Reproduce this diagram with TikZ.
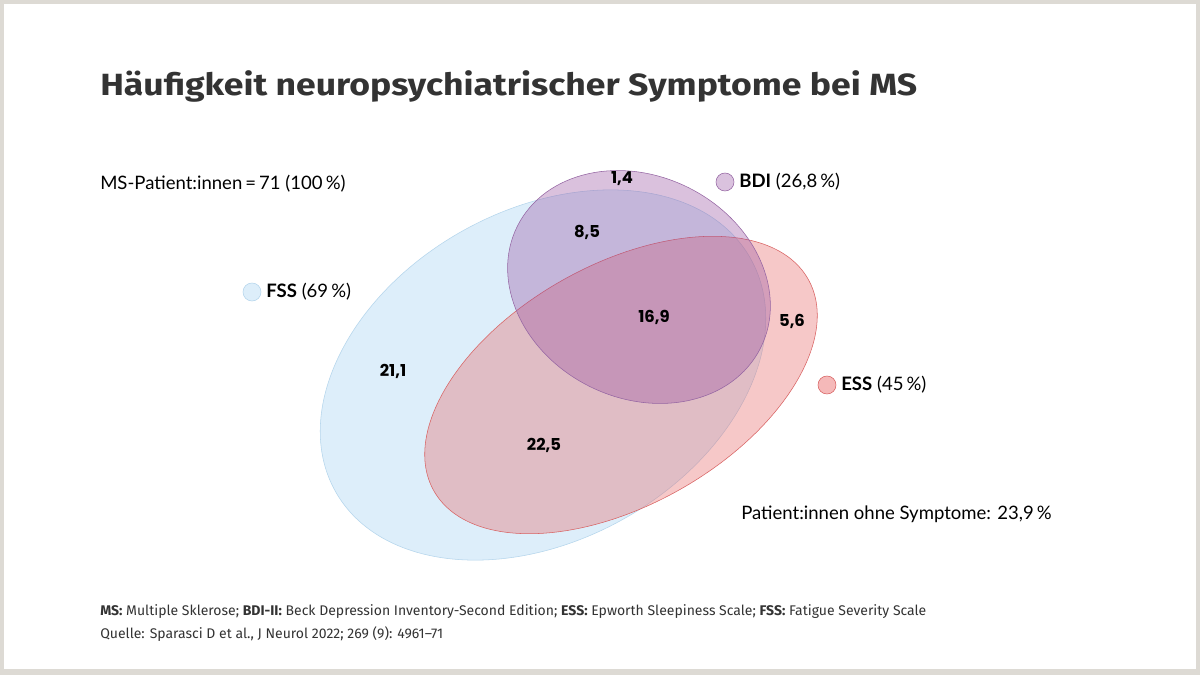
\documentclass[tikz,border=0pt]{standalone}
\usepackage{fontspec}
\setmainfont{Lato}
\newfontfamily\titlefont{Fira Sans}[FakeStretch=1.16]
\newfontfamily\numfont{Poppins}
\newfontfamily\notefont{Fira Sans}
\usetikzlibrary{positioning}
\definecolor{framegray}{RGB}{221,218,212}
\definecolor{textgray}{RGB}{51,51,51}
\definecolor{fssfill}{RGB}{221,238,250}
\definecolor{fssline}{RGB}{180,213,236}
\definecolor{essfill}{RGB}{232,100,100}
\definecolor{essline}{RGB}{216,96,96}
\definecolor{bdifill}{RGB}{150,80,160}
\definecolor{bdiline}{RGB}{148,100,162}
\tikzset{
  count/.style={font=\numfont\bfseries\fontsize{12.3}{14}\selectfont, inner sep=0pt},
  legend/.style={font=\fontsize{13.9}{16}\selectfont, inner sep=0pt},
  legdot/.style={circle, minimum size=13.5pt, inner sep=0pt},
  note/.style={anchor=base west, inner sep=0pt, text=textgray, font=\notefont\fontsize{10.5}{12}\selectfont}
}
\begin{document}
\begin{tikzpicture}[x=0.75pt,y=-0.75pt]
\useasboundingbox (0,0) rectangle (1200,675);
\fill [framegray] (0,0) rectangle (1200,675);
\fill [white] (4,4) rectangle (1196,669);

\node [anchor=base west, inner sep=0pt, text=textgray, font=\titlefont\bfseries\fontsize{23}{27}\selectfont] (title) at (100,95) {Häufigkeit neuropsychiatrischer Symptome bei MS};

\draw [fssline, fill=fssfill] (543,375) circle [x radius=238, y radius=165, rotate=29.3];
\draw [essline, fill=essfill, fill opacity=0.35] (621,385) circle [x radius=215, y radius=120, rotate=29.5];
\draw [bdiline, fill=bdifill, fill opacity=0.35] (639,287) circle [x radius=136, y radius=111, rotate=-26.6];

\node [count] (n14) at (622,179) {1,4};
\node [count] (n85) at (587,232) {8,5};
\node [count] (n211) at (393,371) {21,1};
\node [count] (n169) at (654,317) {16,9};
\node [count] (n56) at (792,321) {5,6};
\node [count] (n225) at (544,445) {22,5};

\node [legend, anchor=base west] (total) at (100,189) {MS-Patient:innen\,=\,71 (100\,\%)};
\node [legdot, draw=fssline, fill=fssfill] (fssdot) at (252,292) {};
\node [legend, right=3.6pt of fssdot] (fsslab) {\textbf{FSS} (69\,\%)};
\node [legdot, draw=bdiline, fill=bdifill!35] (bdidot) at (725,182) {};
\node [legend, right=3.6pt of bdidot] (bdilab) {\textbf{BDI} (26,8\,\%)};
\node [legdot, draw=essline, fill=essfill!45] (essdot) at (827,385) {};
\node [legend, right=3.6pt of essdot] (esslab) {\textbf{ESS} (45\,\%)};
\node [legend, anchor=base west] (none) at (741,519) {Patient:innen ohne Symptome: 23,9\,\%};

\node [note] (note) at (100,615) {\textbf{MS:} Multiple Sklerose; \textbf{BDI-II:} Beck Depression Inventory-Second Edition; \textbf{ESS:} Epworth Sleepiness Scale; \textbf{FSS:} Fatigue Severity Scale};
\node [note] (source) at (100,638) {Quelle: Sparasci D et al., J Neurol 2022; 269 (9): 4961–71};
\end{tikzpicture}
\end{document}
